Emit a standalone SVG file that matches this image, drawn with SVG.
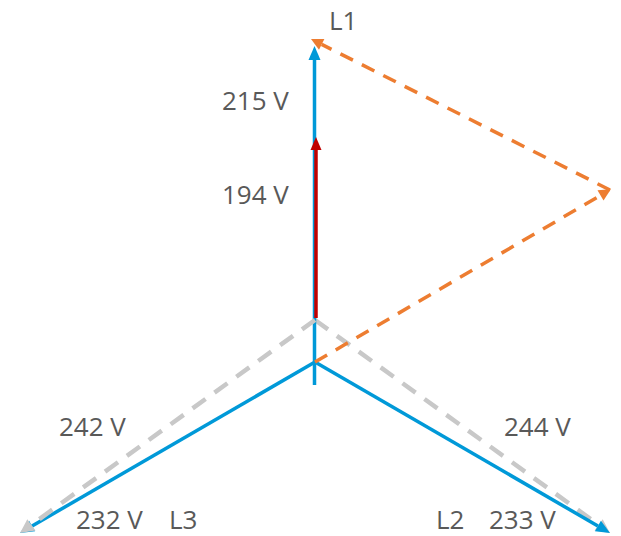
<svg xmlns="http://www.w3.org/2000/svg" width="621" height="536" viewBox="0 0 621 536">
<style>
.t{font-family:"Open Sans","Noto Sans","Liberation Sans",sans-serif;font-size:26px;fill:#595959}
.b{stroke:#0099D8;stroke-width:3.5;fill:none}
.g{stroke:#C8C8C8;stroke-width:4.5;fill:none;stroke-dasharray:16 11}
.o{stroke:#ED7D31;stroke-width:3.5;fill:none;stroke-dasharray:14 10}
.r{stroke:#C00000;stroke-width:3.5;fill:none}
</style>
<defs>
<marker id="ab" markerUnits="userSpaceOnUse" markerWidth="20" markerHeight="20" refX="0" refY="7" orient="auto" overflow="visible"><path d="M0,1 L14,7 L0,13 z" fill="#0099D8"/></marker>
<marker id="ar" markerUnits="userSpaceOnUse" markerWidth="20" markerHeight="20" refX="0" refY="6" orient="auto" overflow="visible"><path d="M0,0.5 L13,6 L0,11.5 z" fill="#C00000"/></marker>
<marker id="ag" markerUnits="userSpaceOnUse" markerWidth="20" markerHeight="20" refX="0" refY="7" orient="auto" overflow="visible"><path d="M0,0 L14,7 L0,14 z" fill="#C8C8C8"/></marker>
<marker id="ao" markerUnits="userSpaceOnUse" markerWidth="20" markerHeight="20" refX="0" refY="6" orient="auto" overflow="visible"><path d="M0,0 L12,6 L0,12 z" fill="#ED7D31"/></marker>
</defs>
<g id="connectors">
<path class="g" d="M315,320 L598.6,524.8" marker-end="url(#ag)"/>
<path class="b" d="M314.5,385 L314.5,60" marker-end="url(#ab)"/>
<path class="b" d="M315,362 L597.9,526" marker-end="url(#ab)"/>
<path class="b" d="M315,362 L32.1,526" marker-end="url(#ab)"/>
<path class="g" d="M315,320 L31.4,524.8" marker-end="url(#ag)"/>
<path class="r" d="M316,318 L316,150" marker-end="url(#ar)"/>
<path class="o" d="M315,362 L600.5,195.4" marker-end="url(#ao)"/>
<path class="o" d="M610,190 L321.7,44.4" marker-end="url(#ao)"/>
</g>
<g id="L1"><text class="t" x="329" y="30">L1</text></g>
<g id="V215"><text class="t" x="222" y="110">215 V</text></g>
<g id="V194"><text class="t" x="222" y="204">194 V</text></g>
<g id="V242"><text class="t" x="59" y="436">242 V</text></g>
<g id="V244"><text class="t" x="504" y="436">244 V</text></g>
<g id="V232"><text class="t" x="76" y="529">232 V</text></g>
<g id="L3"><text class="t" x="169" y="529">L3</text></g>
<g id="L2"><text class="t" x="436" y="529">L2</text></g>
<g id="V233"><text class="t" x="489" y="529">233 V</text></g>
</svg>
